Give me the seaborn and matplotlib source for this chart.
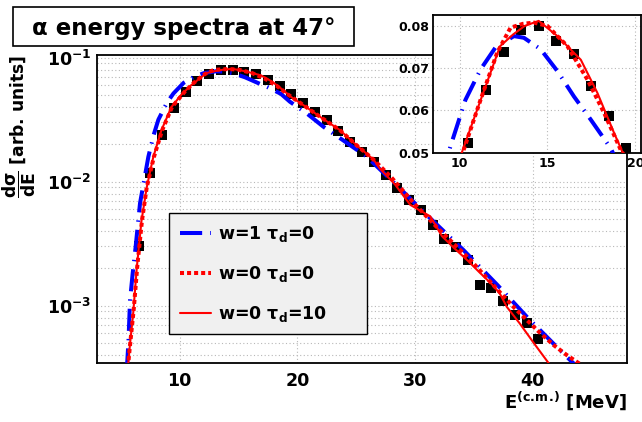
import numpy as np
import pandas as pd
import matplotlib
matplotlib.use("Agg")
import matplotlib.pyplot as plt
import seaborn as sns
from matplotlib.patches import Rectangle
from matplotlib.ticker import FixedLocator, FixedFormatter, MultipleLocator, NullFormatter

# ---------------- data ----------------
E_data = [6.5, 7.5, 8.5, 9.5, 10.5, 11.5, 12.5, 13.5, 14.5, 15.5, 16.5, 17.5, 18.5, 19.5,
          20.5, 21.5, 22.5, 23.5, 24.5, 25.5, 26.5, 27.5, 28.5, 29.5, 30.5, 31.5, 32.5,
          33.5, 34.5, 35.5, 36.5, 37.5, 38.5, 39.5, 40.5]
y_data = [0.00303, 0.0117, 0.0238, 0.0391, 0.0524, 0.0649, 0.0738, 0.0790, 0.0800, 0.0764,
          0.0734, 0.0659, 0.0588, 0.0510, 0.0428, 0.0367, 0.0315, 0.0258, 0.0210, 0.0173,
          0.01435, 0.0113, 0.00885, 0.00712, 0.00591, 0.00448, 0.00343, 0.00296, 0.00234,
          0.00147, 0.00138, 0.00110, 0.00084, 0.00073, 0.000535]

# w=1 tau_d=0 (blue dashed)
E_w1 = [5.5, 5.64, 5.78, 6.0, 6.26, 6.63, 7.0, 7.34, 7.8, 8.19, 8.9, 9.47, 10.33, 11.19,
        12.04, 13.09, 13.66, 14.61, 15.57, 16.51, 17.47, 18.61, 19.37, 20.8, 22.2, 24.0,
        25.9, 28.7, 31.0, 34.1, 37.0, 39.5, 42.3, 43.8]
y_w1 = [3.0e-4, 5.0e-4, 1.1e-3, 1.8e-3, 3.0e-3, 6.7e-3, 0.0105, 0.0159, 0.0240, 0.0316,
        0.043, 0.0514, 0.0625, 0.0697, 0.0749, 0.0776, 0.0772, 0.0745, 0.0693, 0.0633,
        0.0578, 0.051, 0.0441, 0.0355, 0.0278, 0.0212, 0.0159, 0.00885, 0.00539, 0.00282,
        0.00147, 8.15e-4, 4.4e-4, 3.2e-4]

# w=0 tau_d=0 (red dotted)
E_w0 = [5.6, 5.75, 6.1, 6.4, 6.8, 7.2, 7.8, 8.5, 9.35, 10.42, 11.19, 12.14, 12.9, 13.6,
        14.23, 15.0, 16.14, 17.28, 18.23, 19.18, 20.5, 22.0, 23.6, 25.0, 26.5, 28.0, 29.9,
        32.1, 34.7, 37.0, 38.5, 40.5, 41.8, 42.9, 43.8, 44.4]
y_w0 = [3.2e-4, 4.5e-4, 9.5e-4, 2.1e-3, 4.9e-3, 9.0e-3, 0.0157, 0.0258, 0.0400, 0.053,
        0.0625, 0.0737, 0.0796, 0.0805, 0.0808, 0.0800, 0.0752, 0.0673, 0.0594, 0.0506,
        0.0415, 0.033, 0.0261, 0.0198, 0.0150, 0.0108, 0.0067, 0.00407, 0.00234, 0.00135,
        9.5e-4, 6.2e-4, 4.8e-4, 4.0e-4, 3.5e-4, 3.2e-4]

# w=0 tau_d=10 (red solid)
E_t10 = [5.6, 5.75, 6.05, 6.35, 6.75, 7.2, 7.75, 8.45, 9.3, 10.14, 11.0, 12.3, 13.05, 13.7,
         14.5, 15.57, 16.9, 17.85, 18.8, 19.5, 20.5, 22.0, 23.6, 25.0, 26.5, 27.0, 28.3,
         29.6, 30.5, 31.3, 32.3, 33.3, 34.5, 35.5, 36.5, 37.2, 37.8, 38.9, 40.1, 41.4]
y_t10 = [3.2e-4, 4.6e-4, 8.7e-4, 2.0e-3, 4.8e-3, 9.0e-3, 0.0157, 0.026, 0.040, 0.0502,
         0.0602, 0.0752, 0.0780, 0.0800, 0.0812, 0.0776, 0.0720, 0.0641, 0.0546, 0.0480,
         0.0415, 0.0330, 0.0261, 0.0198, 0.0150, 0.0128, 0.0095, 0.0065, 0.0058, 0.00525,
         0.00363, 0.00293, 0.0023, 0.00185, 0.0015, 0.00126, 9.8e-4, 7.2e-4, 5.0e-4, 3.4e-4]

labels = ["w=1 τ$_{\\mathrm{d}}$=0", "w=0 τ$_{\\mathrm{d}}$=0", "w=0 τ$_{\\mathrm{d}}$=10"]
title_text = "α energy spectra at 47°"
ytick_vals = [1e-3, 1e-2, 1e-1]
ytick_labels = ["$\\mathbf{10^{-3}}$", "$\\mathbf{10^{-2}}$", "$\\mathbf{10^{-1}}$"]

# ---------------- style ----------------
sns.set_style("white")
plt.rcParams["font.family"] = ["DejaVu Sans"]
plt.rcParams["font.weight"] = "bold"
plt.rcParams["mathtext.fontset"] = "custom"
plt.rcParams["mathtext.rm"] = "DejaVu Sans:bold"
plt.rcParams["mathtext.it"] = "DejaVu Sans:bold"
plt.rcParams["mathtext.bf"] = "DejaVu Sans:bold"
plt.rcParams["mathtext.sf"] = "DejaVu Sans:bold"
for k in ["text.color", "axes.labelcolor", "xtick.color", "ytick.color", "axes.edgecolor"]:
    plt.rcParams[k] = "black"

BLUE = "#0000ff"
RED = "#ff0000"
GRID = dict(color="#b8b8b8", linestyle=(0, (1, 2.2)), linewidth=0.8)

df_data = pd.DataFrame({"E": E_data, "y": y_data})
curves = [
    (pd.DataFrame({"E": E_w1, "y": y_w1}), dict(color=BLUE, linewidth=2.9, linestyle=(0, (5.5, 2, 0.35, 2)))),
    (pd.DataFrame({"E": E_w0, "y": y_w0}), dict(color=RED, linewidth=2.9, linestyle=(0, (1, 0.75)))),
    (pd.DataFrame({"E": E_t10, "y": y_t10}), dict(color=RED, linewidth=1.5, linestyle="-")),
]

fig = plt.figure(figsize=(6.42, 4.22), dpi=100)
fig.patch.set_facecolor("white")

ax = fig.add_axes([0.1516, 0.1391, 0.8246, 0.7306])
ax.set_yscale("log")


def draw(a, marker_size):
    sns.scatterplot(data=df_data, x="E", y="y", marker="s", s=marker_size, color="black",
                    linewidth=0, ax=a, zorder=2, legend=False)
    lines = []
    for (df, kw), lab in zip(curves, labels):
        sns.lineplot(data=df, x="E", y="y", sort=False, estimator=None, ax=a, zorder=3,
                     label=lab, **kw)
        lines.append(a.get_lines()[-1])
    return lines


lines = draw(ax, 62)
ax.set_xlim(3, 48)
ax.set_ylim(3.43e-4, 0.105)

# ticks
ax.xaxis.set_major_locator(FixedLocator([10, 20, 30, 40]))
ax.xaxis.set_minor_locator(MultipleLocator(2))
ax.yaxis.set_major_locator(FixedLocator(ytick_vals))
ax.yaxis.set_major_formatter(FixedFormatter(ytick_labels))
ax.yaxis.set_minor_locator(matplotlib.ticker.LogLocator(base=10, subs=np.arange(2, 10)))
ax.yaxis.set_minor_formatter(NullFormatter())
ax.tick_params(axis="x", which="major", direction="in", length=7.2, width=1.0, labelsize=12.6, pad=6,
               top=False)
ax.tick_params(axis="x", which="minor", direction="in", length=3.3, width=1.0, top=False)
ax.tick_params(axis="y", which="major", direction="in", length=8.6, width=1.0, labelsize=12.6, pad=4,
               right=False)
ax.tick_params(axis="y", which="minor", direction="in", length=5.0, width=1.0, right=False)
for lab in ax.get_xticklabels() + ax.get_yticklabels():
    lab.set_fontweight("bold")
ax.grid(True, axis="x", which="major", **GRID)
ax.grid(True, axis="y", which="both", **GRID)
for sp in ax.spines.values():
    sp.set_color("black")
    sp.set_linewidth(1.3)

ax.set_xlabel("E$^{\\mathbf{(c.\\!m.\\!)}}$ [MeV]", fontsize=13, fontweight="bold", loc="right")
ax.xaxis.set_label_coords(1.0, -0.085)
ax.set_ylabel("$\\dfrac{d\\sigma}{dE}$ [arb. units]", fontsize=12.3, fontweight="bold", loc="top")
ax.yaxis.set_label_coords(-0.112, 1.0)

leg = ax.legend(handles=lines, labels=labels, loc="upper left",
                bbox_to_anchor=(0.136, 0.0853, 0.373, 0.4012), mode="expand",
                borderaxespad=0, borderpad=0.6, labelspacing=1.15, handlelength=1.8,
                handletextpad=0.4, fancybox=False, framealpha=1, facecolor="#f0f0f0",
                edgecolor="black", prop=dict(family="DejaVu Sans", weight="bold", size=12.5))
leg.get_frame().set_linewidth(1.0)
leg.set_zorder(5)

# ---------------- inset ----------------
axi = fig.add_axes([0.6749, 0.6382, 0.3228, 0.3263])
axi.set_facecolor("white")
draw(axi, 62)
if axi.get_legend() is not None:
    axi.get_legend().remove()
axi.set_xlim(8.5, 20.3)
axi.set_ylim(0.05, 0.0826)
axi.xaxis.set_major_locator(FixedLocator([10, 15, 20]))
axi.xaxis.set_minor_locator(MultipleLocator(1))
axi.yaxis.set_major_locator(FixedLocator([0.05, 0.06, 0.07, 0.08]))
axi.yaxis.set_major_formatter(FixedFormatter(["0.05", "0.06", "0.07", "0.08"]))
axi.yaxis.set_minor_locator(MultipleLocator(0.002))
axi.tick_params(which="major", direction="in", length=5, width=1.0, labelsize=9, pad=3,
                top=False, right=False)
axi.tick_params(which="minor", direction="in", length=2.8, width=1.0, top=False, right=False)
for lab in axi.get_xticklabels() + axi.get_yticklabels():
    lab.set_fontweight("bold")
axi.grid(True, which="major", **GRID)
axi.set_xlabel("")
axi.set_ylabel("")
for sp in axi.spines.values():
    sp.set_color("black")
    sp.set_linewidth(1.3)

# ---------------- title box ----------------
fig.patches.append(Rectangle((12.7 / 642, 1 - 45.7 / 422), 341.3 / 642, 38.4 / 422,
                             transform=fig.transFigure, facecolor="white", edgecolor="black",
                             linewidth=1.2, zorder=10))
fig.text(183.3 / 642, 1 - 26.5 / 422, title_text, ha="center", va="center_baseline",
         fontsize=16.5, fontweight="bold", family="DejaVu Sans", zorder=11)

fig.savefig("out.png", dpi=100, facecolor="white")
